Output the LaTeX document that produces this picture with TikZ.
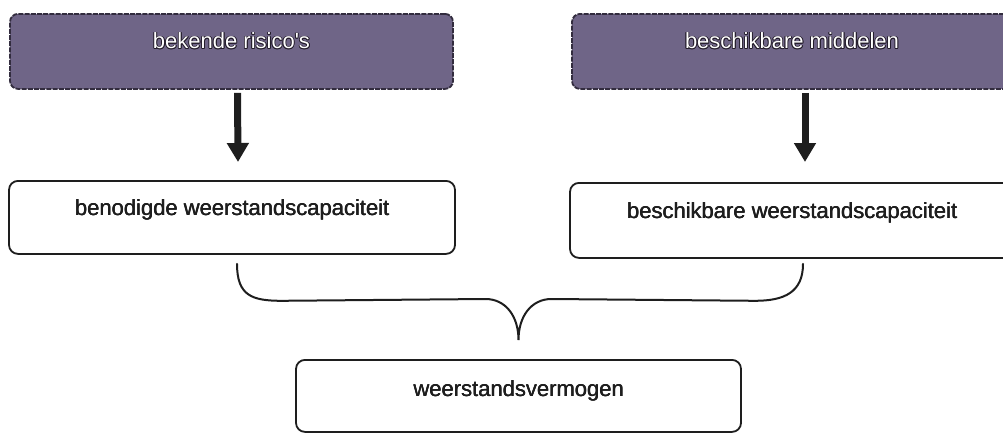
\documentclass[tikz,border=0pt]{standalone}
\usepackage{fontspec}
\setmainfont{Liberation Sans}[Ligatures=TeXOff]
\usetikzlibrary{arrows.meta,calc}
\definecolor{boxpurple}{RGB}{111,101,135}
\definecolor{boxedge}{RGB}{50,44,62}
\definecolor{inkdark}{RGB}{30,30,30}
\definecolor{outlinedark}{RGB}{35,28,42}
\newcommand{\shifted}[3]{\rlap{\hspace*{#1}\raisebox{#2}{#3}}}
\newcommand{\outlined}[1]{%
  {\color{outlinedark}%
   \shifted{-0.9pt}{0pt}{#1}\shifted{0.9pt}{0pt}{#1}%
   \shifted{0pt}{-0.9pt}{#1}\shifted{0pt}{0.9pt}{#1}%
   \shifted{-0.65pt}{-0.65pt}{#1}\shifted{0.65pt}{0.65pt}{#1}%
   \shifted{-0.65pt}{0.65pt}{#1}\shifted{0.65pt}{-0.65pt}{#1}}%
  {\color{white}#1}}
\newcommand{\heavy}[1]{\shifted{0.4pt}{0pt}{#1}\shifted{0.2pt}{0.25pt}{#1}#1}
\tikzset{
  topbox/.style={draw=boxedge, fill=boxpurple, line width=1.8pt, dash pattern=on 5pt off 1.2pt,
    rounded corners=8pt, anchor=north, inner xsep=0pt, inner ysep=0pt,
    font=\fontsize{22}{26}\selectfont},
  midbox/.style={draw=inkdark, fill=white, line width=1.8pt, rounded corners=9pt, anchor=north,
    inner xsep=0pt, inner ysep=0pt, text=inkdark, font=\fontsize{22}{26}\selectfont},
  bigarrow/.style={draw=inkdark, line width=7pt, -{Triangle[width=21pt,length=19pt]}},
  bracestyle/.style={draw=inkdark, line width=2pt, line cap=round}
}
\begin{document}
\begin{tikzpicture}[x=1pt,y=-1pt]
\useasboundingbox (0,0) rectangle (1003,432);
\clip (0,0) rectangle (1003,432);
% top boxes
\node[topbox, minimum width=443pt, text height=35pt, text depth=40pt] (risk) at (231.5,13) {\outlined{bekende risico's}};
\node[topbox, minimum width=440pt, text height=35pt, text depth=40pt] (means) at (792,13) {\outlined{beschikbare middelen}};
% middle boxes
\node[midbox, minimum width=446pt, text height=35pt, text depth=38pt] (need) at (232,180) {\heavy{benodigde weerstandscapaciteit}};
\node[midbox, minimum width=444pt, text height=36pt, text depth=39pt] (avail) at (792,182) {\heavy{beschikbare weerstandscapaciteit}};
% bottom box
\node[midbox, minimum width=445pt, text height=37pt, text depth=35pt] (cap) at (518.5,359) {\heavy{weerstandsvermogen}};
% arrows
\draw[bigarrow] ([xshift=6pt,yshift=-3pt]risk.south) -- ([xshift=6pt,yshift=18pt]need.north);
\draw[bigarrow] ([xshift=13pt,yshift=-3pt]means.south) -- ([xshift=13pt,yshift=20pt]avail.north);
% brace
\coordinate (bl) at ([xshift=5pt,yshift=-9pt]need.south);
\coordinate (br) at ([xshift=11pt,yshift=-5pt]avail.south);
\coordinate (bt) at ([yshift=19pt]cap.north);
\draw[bracestyle] (bl) .. controls ($(bl)+(0,32)$) and ($(bl)+(15,37)$) .. ($(bl)+(45,37)$)
  -- ($(bt)+(-33,-41)$) .. controls ($(bt)+(-13,-41)$) and ($(bt)+(0,-24)$) .. (bt)
  .. controls ($(bt)+(0,-24)$) and ($(bt)+(13,-41)$) .. ($(bt)+(33,-41)$)
  -- ($(br)+(-48,37)$) .. controls ($(br)+(-18,37)$) and ($(br)+(0,28)$) .. (br);
\end{tikzpicture}
\end{document}
